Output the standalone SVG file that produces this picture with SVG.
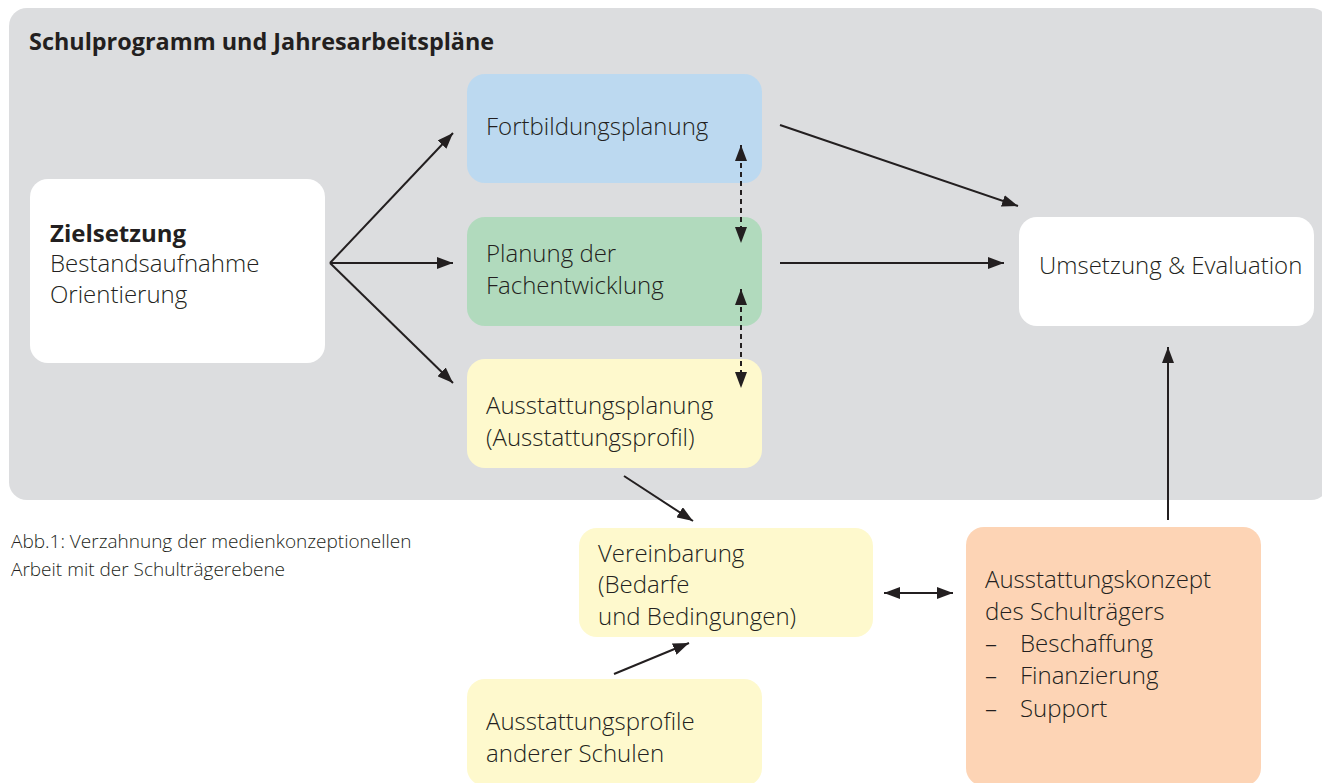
<svg xmlns="http://www.w3.org/2000/svg" width="1322" height="783" viewBox="0 0 1322 783">
<defs>
<marker id="ah" viewBox="0 0 16 12" refX="16" refY="6" markerWidth="16" markerHeight="12" markerUnits="userSpaceOnUse" orient="auto-start-reverse">
<path d="M0,0 L16,6 L0,12 Z" fill="#231f20"/>
</marker>
</defs>
<style>
.t{font-family:"Open Sans","Liberation Sans",sans-serif;font-size:24px;font-weight:300;fill:#231f20}
.b{font-weight:bold}
.cap{font-family:"Open Sans","Liberation Sans",sans-serif;font-size:19px;font-weight:300;fill:#231f20}
.c{stroke:#231f20;stroke-width:2;fill:none}
.d{stroke:#231f20;stroke-width:2;fill:none;stroke-dasharray:5 4}
</style>
<rect id="bg" x="9" y="8" width="1320" height="492" rx="18" fill="#dcdddf"/>
<text class="t b" x="29" y="50" style="font-size:23.4px">Schulprogramm und Jahresarbeitspläne</text>

<g id="zielsetzung">
<rect x="30" y="179" width="295" height="184" rx="18" fill="#ffffff"/>
<text class="t" x="50" y="242"><tspan class="b">Zielsetzung</tspan><tspan x="50" y="272">Bestandsaufnahme</tspan><tspan x="50" y="303">Orientierung</tspan></text>
</g>
<g id="fortbildung">
<rect x="467" y="74" width="295" height="109" rx="18" fill="#bcd9f0"/>
<text class="t" x="486" y="135">Fortbildungsplanung</text>
</g>
<g id="fachentwicklung">
<rect x="467" y="217" width="295" height="109" rx="18" fill="#b1dabd"/>
<text class="t" x="486" y="262">Planung der<tspan x="486" y="294">Fachentwicklung</tspan></text>
</g>
<g id="ausstattungsplanung">
<rect x="467" y="359" width="295" height="109" rx="18" fill="#fef9cd"/>
<text class="t" x="486" y="414">Ausstattungsplanung<tspan x="486" y="446">(Ausstattungsprofil)</tspan></text>
</g>
<g id="umsetzung">
<rect x="1019" y="217" width="295" height="109" rx="18" fill="#ffffff"/>
<text class="t" x="1039" y="274">Umsetzung &amp; Evaluation</text>
</g>
<g id="vereinbarung">
<rect x="579" y="528" width="294" height="109" rx="18" fill="#fef9cd"/>
<text class="t" x="598" y="562">Vereinbarung<tspan x="598" y="593">(Bedarfe</tspan><tspan x="598" y="625">und Bedingungen)</tspan></text>
</g>
<g id="profile">
<rect x="467" y="679" width="295" height="107" rx="18" fill="#fef9cd"/>
<text class="t" x="486" y="730">Ausstattungsprofile<tspan x="486" y="762">anderer Schulen</tspan></text>
</g>
<g id="konzept">
<rect x="966" y="527" width="295" height="259" rx="18" fill="#fdd4b5"/>
<text class="t" x="985" y="588">Ausstattungskonzept<tspan x="985" y="620">des Schulträgers</tspan></text>
<text class="t" x="985" y="652">–<tspan x="1020">Beschaffung</tspan></text>
<text class="t" x="985" y="684">–<tspan x="1020">Finanzierung</tspan></text>
<text class="t" x="985" y="717">–<tspan x="1020">Support</tspan></text>
</g>

<g id="caption">
<text class="cap" x="11" y="548">Abb.1: Verzahnung der medienkonzeptionellen<tspan x="11" y="576">Arbeit mit der Schulträgerebene</tspan></text>
</g>

<g id="connectors">
<line class="c" x1="330" y1="263" x2="453" y2="133" marker-end="url(#ah)"/>
<line class="c" x1="330" y1="263" x2="453" y2="263" marker-end="url(#ah)"/>
<line class="c" x1="330" y1="263" x2="453" y2="383" marker-end="url(#ah)"/>
<line class="d" x1="741" y1="145" x2="741" y2="243" marker-start="url(#ah)" marker-end="url(#ah)"/>
<line class="d" x1="741" y1="289" x2="741" y2="388" marker-start="url(#ah)" marker-end="url(#ah)"/>
<line class="c" x1="780" y1="125" x2="1018" y2="206" marker-end="url(#ah)"/>
<line class="c" x1="780" y1="263" x2="1004" y2="263" marker-end="url(#ah)"/>
<line class="c" x1="1168" y1="520" x2="1168" y2="347" marker-end="url(#ah)"/>
<line class="c" x1="624" y1="476" x2="693" y2="521" marker-end="url(#ah)"/>
<line class="c" x1="614" y1="674" x2="689" y2="643" marker-end="url(#ah)"/>
<line class="c" x1="884" y1="593" x2="953" y2="593" marker-start="url(#ah)" marker-end="url(#ah)"/>
</g>
</svg>
